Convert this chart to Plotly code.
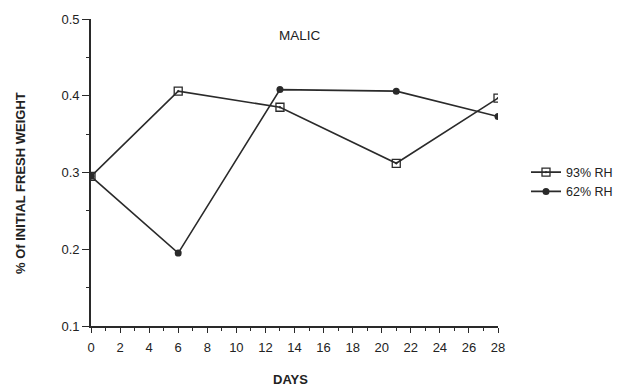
import plotly.graph_objects as go

days = [0, 6, 13, 21, 28]
rh93 = [0.295, 0.406, 0.385, 0.312, 0.397]
rh62 = [0.295, 0.195, 0.408, 0.406, 0.373]
x_ticks = list(range(0, 29, 2))
y_ticks = [0.1, 0.2, 0.3, 0.4, 0.5]

line_col = "#2a2a2a"
font_fam = "Liberation Sans, Arial, sans-serif"

fig = go.Figure()
fig.add_trace(go.Scatter(
    x=days, y=rh93, mode="lines+markers", name="93% RH",
    line=dict(color=line_col, width=1.6),
    marker=dict(symbol="square-open-dot", size=8, color=line_col, line=dict(width=1.3, color=line_col)),
))
fig.add_trace(go.Scatter(
    x=days, y=rh62, mode="lines+markers", name="62% RH",
    line=dict(color=line_col, width=1.6),
    marker=dict(symbol="circle", size=7, color=line_col),
))

pw, ph = 620 - 91 - 122, 386 - 19 - 60

fig.update_layout(
    width=620, height=386,
    margin=dict(l=91, r=122, t=19, b=60, autoexpand=False),
    paper_bgcolor="white", plot_bgcolor="white",
    font=dict(family=font_fam, color="#222", size=13),
    showlegend=True,
    legend=dict(x=(526 - 91) / pw, y=0.469, xanchor="left", yanchor="middle",
                font=dict(size=12.5, color="#222"), itemwidth=30,
                bgcolor="rgba(0,0,0,0)", tracegroupgap=0),
    annotations=[
        dict(text="MALIC", x=14.4, y=0.478, xref="x", yref="y",
             showarrow=False, font=dict(size=13.5, color="#222")),
        dict(text="<b>DAYS</b>", x=0.49, y=(386 - 60 - 379) / ph, xref="paper", yref="paper",
             showarrow=False, font=dict(size=13, color="#222"), yanchor="middle"),
        dict(text="<b>% Of INITIAL FRESH WEIGHT</b>", x=(20 - 91) / pw, y=(386 - 60 - 183) / ph,
             xref="paper", yref="paper", xanchor="center",
             showarrow=False, textangle=-90, font=dict(size=13, color="#222")),
    ],
)

fig.update_xaxes(
    range=[0, 28], tickvals=x_ticks, ticktext=[str(v) for v in x_ticks],
    showgrid=False, zeroline=False, showline=True, linecolor=line_col, linewidth=1.6,
    ticks="outside", ticklen=5, tickwidth=1.4, tickcolor=line_col,
    minor=dict(dtick=1, ticks="outside", ticklen=3, tickwidth=1.2, tickcolor=line_col),
    ticklabelstandoff=4, automargin=False,
    tickfont=dict(size=13),
)
fig.update_yaxes(
    range=[0.1, 0.5], tickvals=y_ticks, ticktext=["0.1", "0.2", "0.3", "0.4", "0.5"],
    showgrid=False, zeroline=False, showline=True, linecolor=line_col, linewidth=1.6,
    ticks="outside", ticklen=7, tickwidth=1.4, tickcolor=line_col,
    minor=dict(dtick=0.05, tick0=0.1, ticks="outside", ticklen=3, tickwidth=1.2, tickcolor=line_col),
    automargin=False,
    tickfont=dict(size=13),
)
fig.write_html("out.html")
